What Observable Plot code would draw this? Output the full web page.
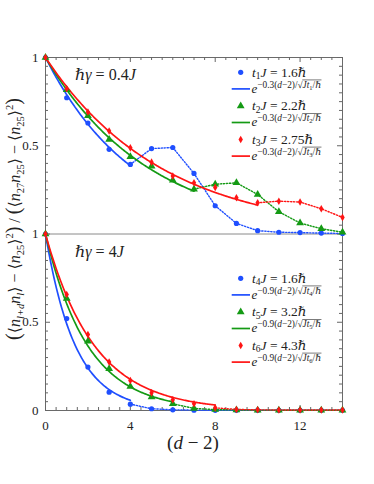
<!DOCTYPE html>
<html><head><meta charset="utf-8">
<script src="https://cdn.jsdelivr.net/npm/d3@7"></script>
<script src="https://cdn.jsdelivr.net/npm/@observablehq/plot@0.6"></script>
<style>body{margin:0;background:#fff}#chart{width:374px;height:484px}</style>
</head><body><div id="chart"></div>
<script>
const SERIF = "Liberation Serif, DejaVu Serif, serif";
const distance = [0,1,2,3,4,5,6,7,8,9,10,11,12,13,14];
// top panel: ħγ = 0.4J
const topBlue  = [1,0.772,0.629,0.48,0.394,0.484,0.49,0.343,0.16,0.06,0.019,0.01,0.008,0.005,0.003];
const topGreen = [1,0.817,0.67,0.535,0.437,0.384,0.305,0.254,0.282,0.29,0.224,0.126,0.062,0.03,0.01];
const topRed   = [1,0.823,0.691,0.584,0.488,0.407,0.328,0.29,0.264,0.205,0.177,0.186,0.181,0.143,0.094];
const topTimes = [1.6, 2.2, 2.75];
const topRate = 0.3;
const topFitEnd = [4, 7, 10];
// bottom panel: ħγ = 4J
const botBlue  = [1,0.521,0.246,0.104,0.036,0.01,0.004,0.002,0.001,0.001,0.001,0.001,0.001,0.001,0.001];
const botGreen = [1,0.634,0.392,0.237,0.136,0.076,0.038,0.012,0.005,0.003,0.002,0.002,0.001,0.001,0.001];
const botRed   = [1,0.657,0.43,0.275,0.17,0.1,0.061,0.038,0.015,0.006,0.004,0.003,0.003,0.003,0.003];
const botTimes = [1.6, 3.2, 4.3];
const botRate = 0.9;
const botFitEnd = [4, 6, 8];

const seriesColors = ["#1f4fff", "#149a14", "#ff1414"];
const seriesSymbols = ["circle", "triangle", "diamond"];
const xTicks = [0, 4, 8, 12];
const yTickValues = [0, 0.5, 1, 1.5, 2];
const yTickLabels = ["0", "0.5", "1", "0.5", "1"];
const panelGammaLabels = ["0.4", "4"];
const timeTimesLabels = [["1.6","2.2","2.75"],["1.6","3.2","4.3"]];
const rateLabels = ["0.3", "0.9"];

const panels = [
  {offset: 1, values: [topBlue, topGreen, topRed], times: topTimes, rate: topRate, fitEnd: topFitEnd},
  {offset: 0, values: [botBlue, botGreen, botRed], times: botTimes, rate: botRate, fitEnd: botFitEnd}
];
const points = [], dotted = [], fits = [];
panels.forEach((p, pi) => {
  p.values.forEach((vals, si) => {
    vals.forEach((v, i) => {
      const row = {key: pi + "-" + si, s: si, d: distance[i], y: v + p.offset};
      points.push(row);
      if (distance[i] >= p.fitEnd[si]) dotted.push(row);
    });
    const k = p.rate / Math.sqrt(p.times[si]);
    for (let i = 0; i <= p.fitEnd[si] * 20; i++) {
      const d = i / 20;
      fits.push({key: pi + "-" + si, s: si, d, y: Math.exp(-k * d) + p.offset});
    }
  });
});

const W = 374, H = 484, mT = 57, mB = 74, mL = 45, mR = 32;
const plotW = W - mL - mR, plotH = H - mT - mB;
const xMinor = d3.range(0, 14.001, 0.5);
const yMinor = d3.range(0, 2.001, 0.05).map(v => Math.round(v * 100) / 100);
const isMajX = v => v % 4 === 0;
const isMajY = v => Math.abs(v * 2 - Math.round(v * 2)) < 1e-6;
const tickStroke = "#666";

const marks = [
  Plot.frame({stroke: "#6a6a6a"}),
  Plot.ruleY([1], {stroke: "#8a8a8a", strokeWidth: 1}),
  Plot.tickX(xMinor.filter(v => !isMajX(v)), {x: d => d, insetBottom: plotH - 3, stroke: tickStroke}),
  Plot.tickX(xMinor.filter(isMajX), {x: d => d, insetBottom: plotH - 5, stroke: tickStroke}),
  Plot.tickX(xMinor.filter(v => !isMajX(v)), {x: d => d, insetTop: plotH - 3, stroke: tickStroke}),
  Plot.tickX(xMinor.filter(isMajX), {x: d => d, insetTop: plotH - 5, stroke: tickStroke}),
  Plot.tickY(yMinor.filter(v => !isMajY(v)), {y: d => d, insetRight: plotW - 3, stroke: tickStroke}),
  Plot.tickY(yMinor.filter(isMajY), {y: d => d, insetRight: plotW - 5, stroke: tickStroke}),
  Plot.tickY(yMinor.filter(v => !isMajY(v)), {y: d => d, insetLeft: plotW - 3, stroke: tickStroke}),
  Plot.tickY(yMinor.filter(isMajY), {y: d => d, insetLeft: plotW - 5, stroke: tickStroke}),
  Plot.axisX({ticks: xTicks, tickSize: 0, tickPadding: 10, label: null, fontSize: 13}),
  Plot.axisY({ticks: yTickValues, tickSize: 0, tickPadding: 7, label: null, fontSize: 13,
    tickFormat: d => yTickLabels[yTickValues.indexOf(d)]})
];
[0, 1, 2].forEach(si => {
  marks.push(Plot.line(dotted.filter(r => r.s === si), {x: "d", y: "y", z: "key", stroke: seriesColors[si], strokeWidth: 1.4, strokeDasharray: "1.3,1.7"}));
});
[0, 1, 2].forEach(si => {
  marks.push(Plot.line(fits.filter(r => r.s === si), {x: "d", y: "y", z: "key", stroke: seriesColors[si], strokeWidth: 1.7}));
});
const rSym = [2.6, 2.9, 2.3];
[0, 1, 2].forEach(si => {
  marks.push(Plot.dot(points.filter(r => r.s === si), {x: "d", y: "y", symbol: seriesSymbols[si], r: rSym[si], fill: seriesColors[si], stroke: "none"}));
});

const chart = Plot.plot({
  width: W, height: H, marginTop: mT, marginBottom: mB, marginLeft: mL, marginRight: mR,
  x: {domain: [0, 14], axis: null},
  y: {domain: [0, 2], axis: null},
  style: {fontFamily: SERIF, fontSize: "13px", color: "#222", background: "#fff"},
  marks
});
document.getElementById("chart").appendChild(chart);

const svg = d3.select(chart);
const g = svg.append("g").attr("font-family", SERIF).attr("fill", "#222");

function rich(x, y, parts, size, anchor, transform) {
  const t = g.append("text").attr("x", x).attr("y", y).attr("font-size", size)
    .attr("text-anchor", anchor || "start").attr("fill", "#222");
  if (transform) t.attr("transform", transform);
  let cur = 0;
  for (const p of parts) {
    const target = p.sh || 0;
    const ts = t.append("tspan").text(p.t);
    if (target !== cur) ts.attr("dy", -(target - cur));
    cur = target;
    if (p.i) ts.attr("font-style", "italic");
    if (p.fs) ts.attr("font-size", p.fs);
  }
  return t;
}

// panel annotations
rich(75, 80, [{t: "ℏγ", i: 1}, {t: " = " + panelGammaLabels[0]}, {t: "J", i: 1}], 16);
rich(75, 257, [{t: "ℏγ", i: 1}, {t: " = " + panelGammaLabels[1]}, {t: "J", i: 1}], 16);

// legends
const symGen = d3.symbol();
const symTypes = [d3.symbolCircle, d3.symbolTriangle, d3.symbolDiamond];
const legendTop = [72.3, 278.3];
const step = 33.6;
[0, 1].forEach(pi => {
  [0, 1, 2].forEach(si => {
    const idx = pi * 3 + si + 1;
    const my = legendTop[pi] + si * step;
    const ly = my + 16.6;
    g.append("path").attr("transform", `translate(240.7,${my})`)
      .attr("d", symGen.type(symTypes[si]).size(Math.PI * rSym[si] * rSym[si])())
      .attr("fill", seriesColors[si]);
    rich(252, my + 4.3, [{t: "t", i: 1}, {t: String(idx), sh: -2.5, fs: 9.5}, {t: "J", i: 1}, {t: " = " + timeTimesLabels[pi][si]}, {t: "ℏ", i: 1}], 13.5);
    g.append("line").attr("x1", 231.7).attr("x2", 250).attr("y1", ly).attr("y2", ly)
      .attr("stroke", seriesColors[si]).attr("stroke-width", 1.7);
    const sh = 5, fs = 9.3;
    const t = rich(251.5, ly + 3.8, [
      {t: "e", i: 1, fs: 13},
      {t: "−" + rateLabels[pi] + "(", sh, fs},
      {t: "d", i: 1, sh, fs},
      {t: "−2)/√", sh, fs},
      {t: "Jt", i: 1, sh, fs},
      {t: String(idx), sh: sh - 2, fs: 6.5},
      {t: "/", sh, fs},
      {t: "ℏ", i: 1, sh, fs}
    ], 13);
    const node = t.node();
    const txt = node.textContent;
    const iS = txt.indexOf("√");
    const a = node.getEndPositionOfChar(iS);
    const b = node.getEndPositionOfChar(txt.length - 1);
    const by = ly + 3.8 - sh - 7.8;
    g.append("line").attr("x1", a.x - 0.3).attr("x2", b.x + 0.3).attr("y1", by).attr("y2", by)
      .attr("stroke", "#222").attr("stroke-width", 0.6);
  });
});

// x label
rich(193, 449, [{t: "("}, {t: "d", i: 1}, {t: " − 2)"}], 19, "middle");

// y label
const fsY = 16, sub = 10.5;
rich(0, 0, [
  {t: "(", fs: 20},
  {t: "⟨"}, {t: "n", i: 1}, {t: "l+d", i: 1, sh: -4, fs: sub}, {t: "n", i: 1}, {t: "l", i: 1, sh: -4, fs: sub},
  {t: "⟩ − ⟨"}, {t: "n", i: 1}, {t: "25", sh: -4, fs: sub}, {t: "⟩"}, {t: "2", sh: 7, fs: sub},
  {t: ")", fs: 20}, {t: " / "},
  {t: "(", fs: 20},
  {t: "⟨"}, {t: "n", i: 1}, {t: "27", sh: -4, fs: sub}, {t: "n", i: 1}, {t: "25", sh: -4, fs: sub},
  {t: "⟩ − ⟨"}, {t: "n", i: 1}, {t: "25", sh: -4, fs: sub}, {t: "⟩"}, {t: "2", sh: 7, fs: sub},
  {t: ")", fs: 20}
], fsY, "middle", "translate(20,219) rotate(-90)");
</script>
</body></html>
